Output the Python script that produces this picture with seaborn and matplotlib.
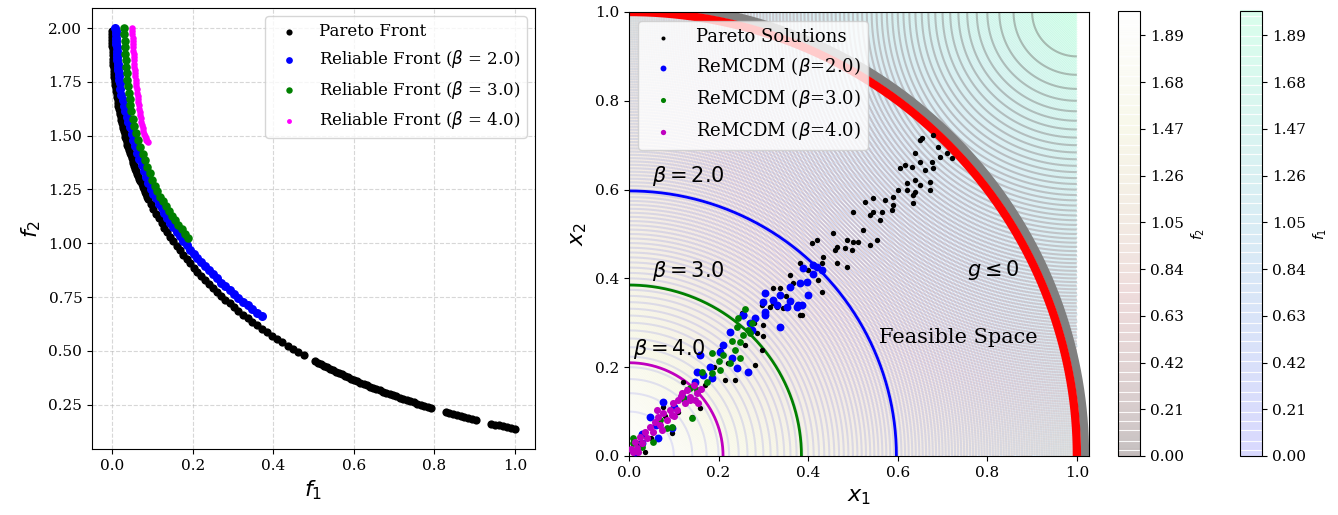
import numpy as np
import matplotlib
matplotlib.use("Agg")
import matplotlib.pyplot as plt
import seaborn as sns

# ---------------- Left panel data (objective space) ----------------
pareto_f1 = [0.0000, 0.0000, 0.0001, 0.0002, 0.0004, 0.0006, 0.0009, 0.0012, 0.0016, 0.0020,
             0.0025, 0.0030, 0.0036, 0.0042, 0.0049, 0.0056, 0.0064, 0.0072, 0.0081, 0.0090,
             0.0100, 0.0110, 0.0121, 0.0132, 0.0144, 0.0156, 0.0169, 0.0182, 0.0196, 0.0210,
             0.0225, 0.0240, 0.0256, 0.0272, 0.0289, 0.0306, 0.0324, 0.0342, 0.0361, 0.0380,
             0.0400, 0.0420, 0.0441, 0.0462, 0.0484, 0.0506, 0.0529, 0.0552, 0.0576, 0.0600,
             0.0625, 0.0650, 0.0676, 0.0702, 0.0729, 0.0756, 0.0784, 0.0812, 0.0841, 0.0870,
             0.0900, 0.0961, 0.1024, 0.1089, 0.1156, 0.1225, 0.1296, 0.1369, 0.1444, 0.1521,
             0.1600, 0.1681, 0.1764, 0.1849, 0.1936, 0.2025, 0.2116, 0.2209, 0.2304, 0.2401,
             0.2500, 0.2601, 0.2704, 0.2809, 0.2916, 0.3025, 0.3136, 0.3249, 0.3364, 0.3481,
             0.3600, 0.3721, 0.3844, 0.3969, 0.4096, 0.4225, 0.4356, 0.4489, 0.4624, 0.4761,
             0.5041, 0.5184, 0.5329, 0.5476, 0.5625, 0.5776, 0.5929, 0.6084, 0.6241, 0.6400,
             0.6561, 0.6724, 0.6889, 0.7056, 0.7225, 0.7396, 0.7569, 0.7744, 0.7921, 0.8281,
             0.8464, 0.8649, 0.8836, 0.9025, 0.9409, 0.9604, 0.9801, 1.0000,
             0.5112, 0.5256, 0.5402, 0.5550, 0.5700, 0.5852, 0.6006, 0.6162, 0.6320, 0.6480,
             0.6642, 0.6806, 0.6972, 0.7140, 0.7310, 0.7482, 0.7656, 0.7832, 0.8372, 0.8556,
             0.8742, 0.8930, 0.9506, 0.9702, 0.9900]
pareto_f2 = [1.988, 1.973, 1.959, 1.944, 1.930, 1.915, 1.901, 1.887, 1.873, 1.858,
             1.844, 1.830, 1.816, 1.802, 1.788, 1.774, 1.760, 1.747, 1.733, 1.719,
             1.706, 1.692, 1.679, 1.665, 1.652, 1.638, 1.625, 1.612, 1.599, 1.586,
             1.573, 1.560, 1.547, 1.534, 1.521, 1.508, 1.495, 1.483, 1.470, 1.457,
             1.445, 1.432, 1.420, 1.408, 1.395, 1.383, 1.371, 1.359, 1.347, 1.335,
             1.323, 1.311, 1.299, 1.287, 1.275, 1.263, 1.252, 1.240, 1.229, 1.217,
             1.206, 1.183, 1.160, 1.138, 1.116, 1.094, 1.072, 1.051, 1.030, 1.009,
             0.988, 0.967, 0.947, 0.927, 0.907, 0.887, 0.868, 0.849, 0.830, 0.811,
             0.792, 0.774, 0.756, 0.738, 0.720, 0.702, 0.685, 0.668, 0.651, 0.634,
             0.618, 0.602, 0.586, 0.570, 0.554, 0.539, 0.524, 0.509, 0.494, 0.479,
             0.451, 0.437, 0.424, 0.410, 0.397, 0.384, 0.371, 0.359, 0.346, 0.334,
             0.322, 0.310, 0.299, 0.288, 0.277, 0.266, 0.255, 0.245, 0.235, 0.215,
             0.205, 0.196, 0.187, 0.178, 0.161, 0.153, 0.145, 0.137,
             0.444, 0.430, 0.417, 0.403, 0.390, 0.377, 0.365, 0.352, 0.340, 0.328,
             0.316, 0.305, 0.293, 0.282, 0.271, 0.261, 0.250, 0.240, 0.210, 0.201,
             0.191, 0.182, 0.157, 0.149, 0.141]

rel2_f1 = [0.0080, 0.0085, 0.0090, 0.0095, 0.0100, 0.0105, 0.0110, 0.0115, 0.0120, 0.0125,
           0.0130, 0.0140, 0.0150, 0.0155, 0.0160, 0.0170, 0.0180, 0.0187, 0.0196, 0.0225,
           0.0256, 0.0289, 0.0324, 0.0361, 0.0400, 0.0441, 0.0484, 0.0529, 0.0576, 0.0625,
           0.0676, 0.0729, 0.0784, 0.0841, 0.0900, 0.0961, 0.1024, 0.1089, 0.1156, 0.1225,
           0.1296, 0.1369, 0.1444, 0.1521, 0.1600, 0.1681, 0.1764, 0.1849, 0.1936, 0.2025,
           0.2116, 0.2209, 0.2304, 0.2401, 0.2500, 0.2601, 0.2704, 0.2809, 0.2916, 0.3025,
           0.3136, 0.3249, 0.3364, 0.3481, 0.3600, 0.3721]
rel2_f2 = [2.000, 1.985, 1.970, 1.955, 1.940, 1.925, 1.910, 1.895, 1.880, 1.865,
           1.850, 1.835, 1.820, 1.805, 1.790, 1.775, 1.760, 1.745, 1.716, 1.690,
           1.664, 1.638, 1.613, 1.588, 1.563, 1.538, 1.508, 1.479, 1.450, 1.421,
           1.392, 1.364, 1.336, 1.309, 1.281, 1.254, 1.230, 1.208, 1.184, 1.162,
           1.141, 1.117, 1.096, 1.075, 1.053, 1.032, 1.012, 0.992, 0.970, 0.951,
           0.931, 0.912, 0.893, 0.874, 0.856, 0.837, 0.817, 0.799, 0.781, 0.764,
           0.746, 0.728, 0.711, 0.694, 0.677, 0.661]

rel3_f1 = [0.029, 0.030, 0.031, 0.032, 0.033, 0.034, 0.035, 0.036, 0.037, 0.039,
           0.041, 0.043, 0.045, 0.0462, 0.0506, 0.0552, 0.0600, 0.0650, 0.0702, 0.0756,
           0.0812, 0.0870, 0.0930, 0.0992, 0.1056, 0.1122, 0.1190, 0.1260, 0.1332, 0.1406,
           0.1482, 0.1560, 0.1640, 0.1722, 0.1806, 0.1892]
rel3_f2 = [2.000, 1.970, 1.940, 1.910, 1.880, 1.850, 1.820, 1.790, 1.760, 1.730,
           1.700, 1.670, 1.640, 1.613, 1.575, 1.543, 1.510, 1.479, 1.447, 1.416,
           1.385, 1.355, 1.325, 1.295, 1.266, 1.241, 1.217, 1.195, 1.173, 1.149,
           1.128, 1.107, 1.086, 1.065, 1.044, 1.024]

rel4_f1 = [0.0490, 0.0495, 0.0500, 0.0505, 0.0510, 0.0515, 0.0520, 0.0525, 0.0530, 0.0535,
           0.0540, 0.0545, 0.0550, 0.0555, 0.0560, 0.0570, 0.0580, 0.0590, 0.0600, 0.0610,
           0.0620, 0.0630, 0.0640, 0.0650, 0.0660, 0.0670, 0.0680, 0.0695, 0.0710, 0.0725,
           0.0740, 0.0755, 0.0770, 0.0790, 0.0810, 0.0830, 0.0850, 0.0870, 0.0890]
rel4_f2 = [2.000, 1.985, 1.970, 1.955, 1.940, 1.925, 1.910, 1.895, 1.880, 1.865,
           1.850, 1.835, 1.820, 1.805, 1.790, 1.775, 1.760, 1.745, 1.730, 1.715,
           1.700, 1.685, 1.670, 1.655, 1.640, 1.625, 1.610, 1.595, 1.580, 1.565,
           1.550, 1.535, 1.520, 1.508, 1.497, 1.488, 1.480, 1.474, 1.470]

# ---------------- Right panel data (design space) ----------------
sol_x1 = [0.650, 0.679, 0.690, 0.710, 0.694, 0.638, 0.605, 0.616, 0.632, 0.650,
          0.676, 0.661, 0.679, 0.621, 0.638, 0.650, 0.672, 0.621, 0.638, 0.634,
          0.672, 0.634, 0.600, 0.589, 0.571, 0.545, 0.527, 0.589, 0.587, 0.565,
          0.545, 0.538, 0.560, 0.500, 0.522, 0.511, 0.500, 0.487, 0.538, 0.553,
          0.455, 0.464, 0.460, 0.482, 0.498, 0.419, 0.408, 0.433, 0.431, 0.464,
          0.487, 0.382, 0.359, 0.366, 0.337, 0.321, 0.431, 0.422, 0.344, 0.315,
          0.297, 0.252, 0.382, 0.721, 0.654, 0.330, 0.386, 0.299, 0.285, 0.297,
          0.281, 0.237, 0.214, 0.203, 0.121, 0.158, 0.076, 0.036, 0.096, 0.141,
          0.252, 0.321, 0.020, 0.050, 0.080, 0.110, 0.130, 0.170, 0.190, 0.220,
          0.260, 0.280, 0.300, 0.350, 0.400]
sol_x2 = [0.712, 0.723, 0.696, 0.682, 0.673, 0.682, 0.649, 0.655, 0.651, 0.662,
          0.662, 0.644, 0.649, 0.615, 0.622, 0.610, 0.617, 0.599, 0.595, 0.588,
          0.599, 0.570, 0.599, 0.583, 0.577, 0.581, 0.572, 0.565, 0.554, 0.550,
          0.550, 0.543, 0.532, 0.550, 0.509, 0.482, 0.482, 0.486, 0.475, 0.486,
          0.502, 0.471, 0.464, 0.468, 0.464, 0.486, 0.480, 0.448, 0.435, 0.435,
          0.426, 0.435, 0.408, 0.390, 0.378, 0.378, 0.369, 0.396, 0.333, 0.336,
          0.340, 0.318, 0.318, 0.671, 0.716, 0.336, 0.318, 0.295, 0.277, 0.239,
          0.205, 0.171, 0.171, 0.239, 0.167, 0.108, 0.110, 0.009, 0.052, 0.088,
          0.322, 0.345, 0.030, 0.040, 0.090, 0.100, 0.150, 0.160, 0.200, 0.210,
          0.250, 0.300, 0.270, 0.360, 0.420]

re2_x1 = [0.225, 0.254, 0.275, 0.304, 0.337, 0.330, 0.375, 0.386, 0.203, 0.241,
          0.266, 0.165, 0.147, 0.152, 0.185, 0.076, 0.047, 0.065, 0.029, 0.013,
          0.096, 0.158, 0.411, 0.419, 0.388, 0.397, 0.382, 0.359, 0.400, 0.337,
          0.304, 0.353, 0.377, 0.321, 0.299, 0.254, 0.304, 0.281, 0.431, 0.100,
          0.120, 0.060, 0.030, 0.180, 0.210, 0.230, 0.270, 0.410, 0.360]
re2_x2 = [0.279, 0.318, 0.284, 0.318, 0.291, 0.340, 0.336, 0.340, 0.234, 0.198,
          0.189, 0.182, 0.167, 0.189, 0.176, 0.122, 0.088, 0.041, 0.029, 0.009,
          0.063, 0.227, 0.430, 0.426, 0.423, 0.392, 0.390, 0.381, 0.363, 0.363,
          0.367, 0.336, 0.340, 0.351, 0.347, 0.318, 0.324, 0.311, 0.419, 0.110,
          0.130, 0.070, 0.050, 0.200, 0.250, 0.220, 0.300, 0.410, 0.350]

re3_x1 = [0.241, 0.254, 0.266, 0.248, 0.237, 0.210, 0.185, 0.185, 0.163, 0.174,
          0.136, 0.141, 0.096, 0.085, 0.054, 0.009, 0.009, 0.243, 0.275, 0.225,
          0.203, 0.248, 0.270, 0.152, 0.260, 0.230, 0.200, 0.120, 0.070, 0.030]
re3_x2 = [0.291, 0.273, 0.284, 0.257, 0.239, 0.227, 0.232, 0.187, 0.189, 0.167,
          0.153, 0.086, 0.065, 0.063, 0.032, 0.029, 0.041, 0.311, 0.300, 0.209,
          0.194, 0.221, 0.277, 0.149, 0.330, 0.260, 0.215, 0.130, 0.080, 0.020]

re4_x1 = [0.118, 0.129, 0.136, 0.109, 0.098, 0.092, 0.076, 0.065, 0.058, 0.047,
          0.036, 0.025, 0.013, 0.009, 0.018, 0.147, 0.152, 0.125, 0.107, 0.085,
          0.069, 0.054, 0.040, 0.029, 0.136, 0.096, 0.074, 0.062, 0.154, 0.160,
          0.145, 0.005, 0.020, 0.115, 0.100]
re4_x2 = [0.142, 0.149, 0.133, 0.126, 0.119, 0.104, 0.097, 0.088, 0.077, 0.065,
          0.054, 0.043, 0.032, 0.009, 0.018, 0.126, 0.142, 0.119, 0.104, 0.081,
          0.070, 0.054, 0.041, 0.029, 0.126, 0.092, 0.059, 0.104, 0.119, 0.150,
          0.160, 0.015, 0.010, 0.135, 0.090]

betas = [2.0, 3.0, 4.0]
beta_radii = [0.597, 0.385, 0.210]
beta_colors = ["blue", "green", "m"]
constraint_radius = 1.0
cbar_ticks = [0.00, 0.21, 0.42, 0.63, 0.84, 1.05, 1.26, 1.47, 1.68, 1.89]

# ---------------- Style ----------------
plt.rcParams["font.family"] = ["DejaVu Serif"]
plt.rcParams["mathtext.fontset"] = "dejavusans"
plt.rcParams["xtick.labelsize"] = 11
plt.rcParams["ytick.labelsize"] = 11

fig = plt.figure(figsize=(13.38, 5.15), dpi=100)
ax1 = fig.add_axes([0.0688, 0.1282, 0.3311, 0.8563])
ax2 = fig.add_axes([0.4701, 0.1146, 0.3438, 0.8621])
cax_f2 = fig.add_axes([0.8356, 0.1146, 0.0164, 0.8641])
cax_f1 = fig.add_axes([0.9268, 0.1146, 0.0164, 0.8641])

# ---------------- Left panel ----------------
sns.scatterplot(x=pareto_f1, y=pareto_f2, ax=ax1, color="black", s=35, linewidth=0,
                label="Pareto Front", zorder=3)
sns.scatterplot(x=rel2_f1, y=rel2_f2, ax=ax1, color="blue", s=42, linewidth=0,
                label=r"Reliable Front ($\beta$ = 2.0)", zorder=3)
sns.scatterplot(x=rel3_f1, y=rel3_f2, ax=ax1, color="green", s=38, linewidth=0,
                label=r"Reliable Front ($\beta$ = 3.0)", zorder=3)
sns.scatterplot(x=rel4_f1, y=rel4_f2, ax=ax1, color="magenta", s=22, linewidth=0,
                label=r"Reliable Front ($\beta$ = 4.0)", zorder=3)
ax1.grid(True, linestyle="--", alpha=0.5)
ax1.set_xlabel("$f_1$", fontsize=16)
ax1.set_ylabel("$f_2$", fontsize=16)
ax1.set_xticks([0.0, 0.2, 0.4, 0.6, 0.8, 1.0])
ax1.set_yticks([0.25, 0.50, 0.75, 1.00, 1.25, 1.50, 1.75, 2.00])
ax1.legend(loc="upper right", fontsize=12, markerscale=0.75)

# ---------------- Right panel ----------------
grid = np.linspace(0, 1, 300)
X1, X2 = np.meshgrid(grid, grid)
F1 = X1 ** 2 + X2 ** 2
F2 = (X1 - 1) ** 2 + (X2 - 1) ** 2
levels = np.linspace(0, 2.0, 201)
cs_f1 = ax2.contour(X1, X2, F1, levels=levels, cmap="winter", alpha=0.14,
                    linewidths=1.5, zorder=0)
cs_f2 = ax2.contour(X1, X2, F2, levels=levels, cmap="pink", alpha=0.26,
                    linewidths=1.5, zorder=0)

theta = np.linspace(0, np.pi / 2, 300)
ax2.plot((constraint_radius + 0.018) * np.cos(theta), (constraint_radius + 0.018) * np.sin(theta),
         color="gray", lw=6, zorder=2, solid_capstyle="butt")
ax2.plot(constraint_radius * np.cos(theta), constraint_radius * np.sin(theta),
         color="red", lw=6, zorder=2.5, solid_capstyle="butt")
for b, r, c in zip(betas, beta_radii, beta_colors):
    ax2.plot(r * np.cos(theta), r * np.sin(theta), color=c, lw=2, zorder=2)

sns.scatterplot(x=sol_x1, y=sol_x2, ax=ax2, color="black", s=15, linewidth=0,
                label="Pareto Solutions", zorder=3)
sns.scatterplot(x=re2_x1, y=re2_x2, ax=ax2, color="blue", s=32, linewidth=0,
                label=r"ReMCDM ($\beta$=2.0)", zorder=3)
sns.scatterplot(x=re3_x1, y=re3_x2, ax=ax2, color="green", s=24, linewidth=0,
                label=r"ReMCDM ($\beta$=3.0)", zorder=3)
sns.scatterplot(x=re4_x1, y=re4_x2, ax=ax2, color="m", s=26, linewidth=0,
                label=r"ReMCDM ($\beta$=4.0)", zorder=3)

ax2.text(0.051, 0.63, r"$\beta = 2.0$", fontsize=15, ha="left", va="center")
ax2.text(0.051, 0.417, r"$\beta = 3.0$", fontsize=15, ha="left", va="center")
ax2.text(0.009, 0.241, r"$\beta = 4.0$", fontsize=15, ha="left", va="center")
ax2.text(0.755, 0.419, r"$g \leq 0$", fontsize=15, ha="left", va="center")
ax2.text(0.558, 0.266, "Feasible Space", fontsize=15, ha="left", va="center")

ax2.set_xlim(0, 1.027)
ax2.set_ylim(0, 1.0)
ax2.set_xticks([0.0, 0.2, 0.4, 0.6, 0.8, 1.0])
ax2.set_yticks([0.0, 0.2, 0.4, 0.6, 0.8, 1.0])
ax2.set_xlabel("$x_1$", fontsize=16)
ax2.set_ylabel("$x_2$", fontsize=16)
ax2.legend(loc="upper left", fontsize=13, markerscale=0.75)

cb2 = fig.colorbar(cs_f2, cax=cax_f2)
cb2.set_ticks(cbar_ticks)
cb2.set_ticklabels([f"{t:.2f}" for t in cbar_ticks])
cb2.set_label("$f_2$")
cb1 = fig.colorbar(cs_f1, cax=cax_f1)
cb1.set_ticks(cbar_ticks)
cb1.set_ticklabels([f"{t:.2f}" for t in cbar_ticks])
cb1.set_label("$f_1$")

fig.savefig("out.png", dpi=100)
